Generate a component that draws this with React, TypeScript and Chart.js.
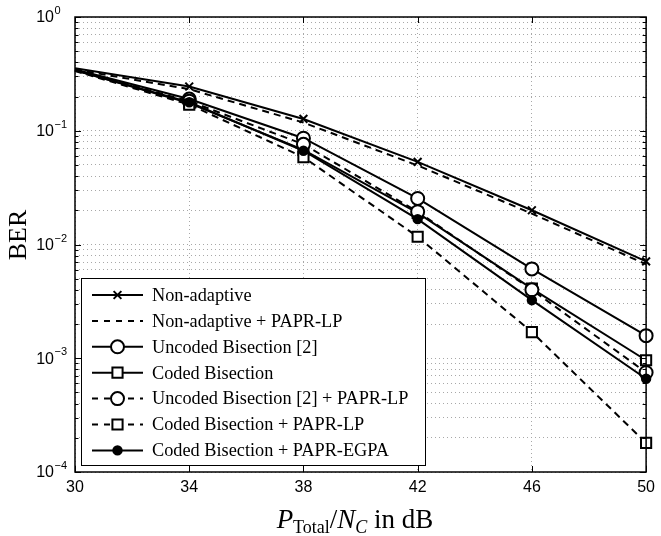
import React, { useEffect, useRef } from 'react';
import { Chart, registerables } from 'chart.js';

Chart.register(...registerables);

// ---------------- data ----------------
const xValues = [30, 34, 38, 42, 46, 50];
const xTickValues = [30, 34, 38, 42, 46, 50];
const yDecadeExponents = [0, -1, -2, -3, -4];

const nonAdaptive = [0.355, 0.245, 0.127, 0.0533, 0.02, 0.0071];
const nonAdaptiveLP = [0.345, 0.232, 0.118, 0.0495, 0.0187, 0.0067];
const uncodedBisection = [0.345, 0.19, 0.086, 0.0254, 0.0061, 0.00158];
const codedBisection = [0.34, 0.175, 0.068, 0.019, 0.0041, 0.00096];
const uncodedBisectionLP = [0.34, 0.182, 0.076, 0.0194, 0.004, 0.00075];
const codedBisectionLP = [0.335, 0.17, 0.0586, 0.0117, 0.0017, 0.00018];
const codedBisectionEGPA = [0.34, 0.178, 0.0667, 0.0167, 0.00324, 0.00066];

const seriesLabels = [
  'Non-adaptive',
  'Non-adaptive + PAPR-LP',
  'Uncoded Bisection [2]',
  'Coded Bisection',
  'Uncoded Bisection [2] + PAPR-LP',
  'Coded Bisection + PAPR-LP',
  'Coded Bisection + PAPR-EGPA',
];
const seriesValues = [
  nonAdaptive,
  nonAdaptiveLP,
  uncodedBisection,
  codedBisection,
  uncodedBisectionLP,
  codedBisectionLP,
  codedBisectionEGPA,
];

// ---------------- styles ----------------
type Marker = 'cross' | 'none' | 'circle' | 'square' | 'dot';
const seriesStyles: { dashed: boolean; marker: Marker }[] = [
  { dashed: false, marker: 'cross' },
  { dashed: true, marker: 'none' },
  { dashed: false, marker: 'circle' },
  { dashed: false, marker: 'square' },
  { dashed: true, marker: 'circle' },
  { dashed: true, marker: 'square' },
  { dashed: false, marker: 'dot' },
];

const DASH = [7, 5];
const SERIF = '"Liberation Serif", "Times New Roman", serif';
const SANS = '"Liberation Sans", Arial, Helvetica, sans-serif';

function markerProps(m: Marker) {
  switch (m) {
    case 'cross':
      return { pointStyle: 'crossRot', radius: 5.5, bg: '#000' };
    case 'circle':
      return { pointStyle: 'circle', radius: 6.5, bg: '#fff' };
    case 'square':
      return { pointStyle: 'rect', radius: 7.2, bg: '#fff' };
    case 'dot':
      return { pointStyle: 'circle', radius: 4.2, bg: '#000' };
    default:
      return { pointStyle: 'circle', radius: 0, bg: '#000' };
  }
}

function drawMarker(ctx: CanvasRenderingContext2D, m: Marker, x: number, y: number) {
  const p = markerProps(m);
  if (p.radius <= 0) return;
  ctx.save();
  ctx.setLineDash([]);
  ctx.lineWidth = 2;
  ctx.strokeStyle = '#000';
  ctx.fillStyle = p.bg;
  ctx.beginPath();
  if (m === 'cross') {
    const s = p.radius * Math.SQRT1_2;
    ctx.moveTo(x - s, y - s);
    ctx.lineTo(x + s, y + s);
    ctx.moveTo(x - s, y + s);
    ctx.lineTo(x + s, y - s);
    ctx.stroke();
  } else if (m === 'square') {
    const s = p.radius * Math.SQRT1_2;
    ctx.rect(x - s, y - s, 2 * s, 2 * s);
    ctx.fill();
    ctx.stroke();
  } else {
    ctx.arc(x, y, p.radius, 0, Math.PI * 2);
    ctx.fill();
    ctx.stroke();
  }
  ctx.restore();
}

const decorPlugin = {
  id: 'decor',
  afterDatasetsDraw(chart: any) {
    const { ctx, chartArea: a, scales } = chart;
    const xs = scales.x;
    const ys = scales.y;
    ctx.save();

    // axes box
    ctx.setLineDash([]);
    ctx.strokeStyle = '#000';
    ctx.lineWidth = 1.5;
    ctx.strokeRect(a.left, a.top, a.right - a.left, a.bottom - a.top);

    // inner ticks
    ctx.lineWidth = 1;
    ctx.beginPath();
    for (const t of xTickValues) {
      const px = Math.round(xs.getPixelForValue(t)) + 0.5;
      ctx.moveTo(px, a.bottom);
      ctx.lineTo(px, a.bottom - 6);
      ctx.moveTo(px, a.top);
      ctx.lineTo(px, a.top + 6);
    }
    for (const e of yDecadeExponents) {
      for (let k = 1; k <= 9; k++) {
        const v = k * Math.pow(10, e);
        if (v > 1.0000001 || v < 0.0000999) continue;
        const py = Math.round(ys.getPixelForValue(v)) + 0.5;
        const len = k === 1 ? 6 : 3.5;
        ctx.moveTo(a.left, py);
        ctx.lineTo(a.left + len, py);
        ctx.moveTo(a.right, py);
        ctx.lineTo(a.right - len, py);
      }
    }
    ctx.stroke();

    // y tick labels 10^e
    ctx.fillStyle = '#000';
    for (const e of yDecadeExponents) {
      const py = ys.getPixelForValue(Math.pow(10, e));
      ctx.font = `16px ${SANS}`;
      ctx.textAlign = 'right';
      ctx.textBaseline = 'middle';
      ctx.fillText('10', 54, py + 1);
      ctx.font = `11px ${SANS}`;
      ctx.textAlign = 'left';
      ctx.textBaseline = 'alphabetic';
      ctx.fillText(e === 0 ? '0' : '\u2212' + Math.abs(e), 54.5, py - 3);
    }

    // y title
    ctx.save();
    ctx.translate(19, 235);
    ctx.rotate(-Math.PI / 2);
    ctx.font = `26px ${SERIF}`;
    ctx.textAlign = 'center';
    ctx.textBaseline = 'middle';
    ctx.fillText('BER', 0, 0);
    ctx.restore();

    // x title: P_Total / N_C in dB
    const parts: { t: string; f: string; dy: number }[] = [
      { t: 'P', f: `italic 27px ${SERIF}`, dy: 0 },
      { t: 'Total', f: `18px ${SERIF}`, dy: 5 },
      { t: '/', f: `27px ${SERIF}`, dy: 0 },
      { t: 'N', f: `italic 27px ${SERIF}`, dy: 0 },
      { t: 'C', f: `italic 18px ${SERIF}`, dy: 5 },
      { t: ' in dB', f: `27px ${SERIF}`, dy: 0 },
    ];
    let total = 0;
    for (const p of parts) {
      ctx.font = p.f;
      total += ctx.measureText(p.t).width;
    }
    let cx = 355 - total / 2;
    const base = 528;
    ctx.textAlign = 'left';
    ctx.textBaseline = 'alphabetic';
    for (const p of parts) {
      ctx.font = p.f;
      ctx.fillText(p.t, cx, base + p.dy);
      cx += ctx.measureText(p.t).width;
    }

    // legend
    const lx = 81.5;
    const ly = 278.5;
    const lw = 344;
    const lh = 187;
    ctx.fillStyle = '#fff';
    ctx.fillRect(lx, ly, lw, lh);
    ctx.strokeStyle = '#000';
    ctx.lineWidth = 1;
    ctx.strokeRect(lx, ly, lw, lh);
    const rowH = 25.9;
    const firstRow = 295;
    seriesLabels.forEach((label, i) => {
      const st = seriesStyles[i];
      const ry = firstRow + i * rowH;
      ctx.save();
      ctx.strokeStyle = '#000';
      ctx.lineWidth = 2;
      ctx.setLineDash(st.dashed ? [6, 6] : []);
      ctx.beginPath();
      ctx.moveTo(92, ry);
      ctx.lineTo(143, ry);
      ctx.stroke();
      ctx.restore();
      drawMarker(ctx, st.marker, 117.5, ry);
      ctx.fillStyle = '#000';
      ctx.font = `18.3px ${SERIF}`;
      ctx.textAlign = 'left';
      ctx.textBaseline = 'middle';
      ctx.fillText(label, 152, ry + 1);
    });

    ctx.restore();
  },
};

export default function App() {
  const canvasRef = useRef<HTMLCanvasElement | null>(null);

  useEffect(() => {
    document.body.style.margin = '0';
    const canvas = canvasRef.current;
    if (!canvas) return;
    const n = seriesLabels.length;
    const datasets = seriesLabels.map((label, i) => {
      const st = seriesStyles[i];
      const mp = markerProps(st.marker);
      return {
        label,
        data: xValues.map((x, j) => ({ x, y: seriesValues[i][j] })),
        borderColor: '#000',
        borderWidth: 2,
        borderDash: st.dashed ? DASH : [],
        pointStyle: mp.pointStyle,
        pointRadius: xValues.map((_, j) => (j === 0 ? 0 : mp.radius)),
        pointBorderWidth: 2,
        pointBorderColor: '#000',
        pointBackgroundColor: mp.bg,
        pointHoverRadius: 0,
        fill: false,
        tension: 0,
        clip: false as any,
        order: n - 1 - i,
      };
    });

    const chart = new Chart(canvas, {
      type: 'line',
      data: { datasets: datasets as any },
      options: {
        responsive: false,
        animation: false,
        devicePixelRatio: 1,
        layout: { padding: { top: 17, right: 11, left: 0, bottom: 0 } },
        plugins: {
          legend: { display: false },
          tooltip: { enabled: false },
          title: { display: false },
        },
        events: [],
        scales: {
          x: {
            type: 'linear',
            min: 30,
            max: 50,
            ticks: {
              stepSize: 4,
              color: '#000',
              font: { family: SANS, size: 16 },
              padding: 6,
              maxRotation: 0,
            },
            grid: { color: '#a8a8a8', lineWidth: 1, drawTicks: false },
            border: { display: false, dash: [1, 3] },
            afterFit: (s: any) => {
              s.height = 64;
            },
          },
          y: {
            type: 'logarithmic',
            min: 1e-4,
            max: 1,
            ticks: { display: false },
            grid: { color: '#a8a8a8', lineWidth: 1, drawTicks: false },
            border: { display: false, dash: [1, 3] },
            afterBuildTicks: (s: any) => {
              const t: { value: number }[] = [];
              for (const e of [-4, -3, -2, -1]) {
                for (let k = 1; k <= 9; k++) t.push({ value: k * Math.pow(10, e) });
              }
              t.push({ value: 1 });
              s.ticks = t;
            },
            afterFit: (s: any) => {
              s.width = 75;
            },
          },
        },
      },
      plugins: [decorPlugin],
    });
    return () => chart.destroy();
  }, []);

  return (
    <div style={{ width: 661, height: 536 }}>
      <canvas ref={canvasRef} width={661} height={536} style={{ display: 'block' }} />
    </div>
  );
}
